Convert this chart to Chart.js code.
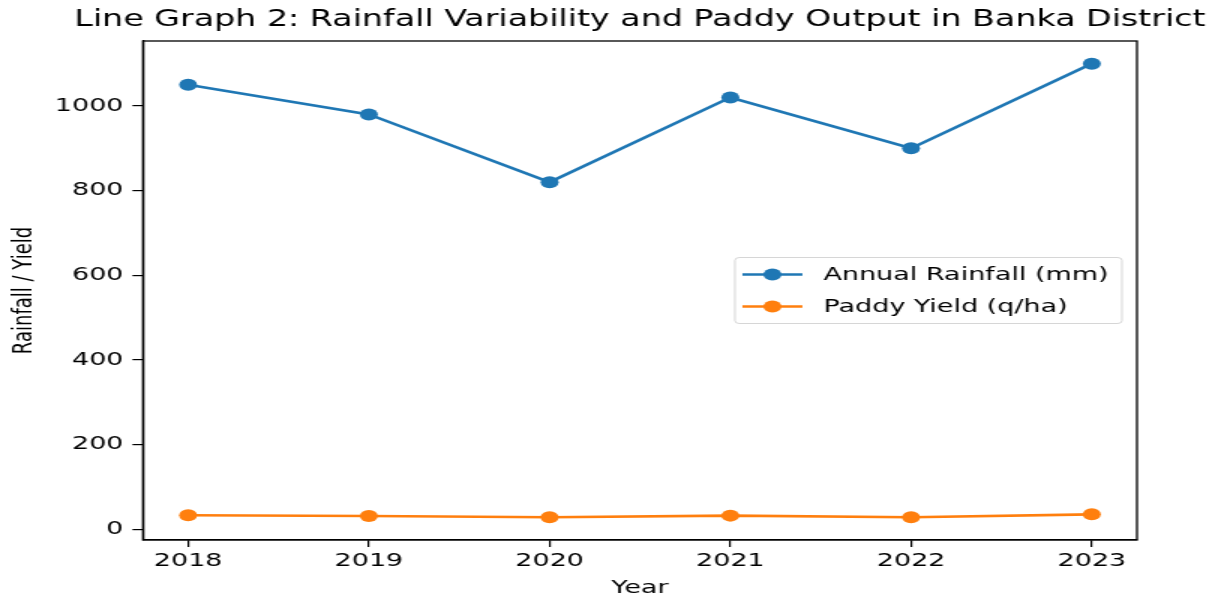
<!DOCTYPE html>
<html>
<head>
<meta charset="utf-8">
<script src="https://cdn.jsdelivr.net/npm/chart.js@4/dist/chart.umd.min.js"></script>
<style>
  html, body { margin: 0; padding: 0; background: #fff; overflow: hidden; }
  /* the reference is stretched sideways, so draw narrow and widen it */
  #wrap { width: 811.3px; height: 596px; transform: scaleX(1.5); transform-origin: 0 0; }
</style>
</head>
<body>
<div id="wrap"><canvas id="lineChart"></canvas></div>
<script>
const years = [2018, 2019, 2020, 2021, 2022, 2023];
const rainfall = [1050, 980, 820, 1020, 900, 1100];
const paddyYield = [33, 31, 28, 32, 28, 35];
const yTicks = [0, 200, 400, 600, 800, 1000];
const seriesLabels = ["Annual Rainfall (mm)", "Paddy Yield (q/ha)"];
const seriesColors = ["#1f77b4", "#ff7f0e"];
const chartTitle = "Line Graph 2: Rainfall Variability and Paddy Output in Banka District";

const FONT = "DejaVu Sans";

document.addEventListener("DOMContentLoaded", () => {
  const allValues = rainfall.concat(paddyYield);
  const lo = Math.min(...allValues), hi = Math.max(...allValues);
  const pad = (hi - lo) * 0.05;
  const xPad = (years[years.length - 1] - years[0]) * 0.05;

  // top + right spines, and the title centred over the plot
  const framePlugin = {
    id: "frame",
    afterDraw(chart) {
      const { ctx, chartArea: a } = chart;
      ctx.save();
      ctx.strokeStyle = "#000";
      ctx.lineWidth = 1.3;
      ctx.strokeRect(a.left, a.top, a.right - a.left, a.bottom - a.top);

      ctx.fillStyle = "#000";
      ctx.font = `22.2px "${FONT}"`;
      ctx.textAlign = "center";
      ctx.textBaseline = "middle";
      ctx.fillText(chartTitle, (a.left + a.right) / 2, 20);
      ctx.restore();
    }
  };

  // matplotlib-like legend sitting inside the plot, centre right
  const legendPlugin = {
    id: "boxLegend",
    afterDraw(chart) {
      const { ctx, chartArea: a } = chart;
      const sets = chart.data.datasets;
      ctx.save();
      ctx.font = `18px "${FONT}"`;
      const textW = Math.max(...sets.map(d => ctx.measureText(d.label).width));
      const padL = 5, padR = 9, handle = 40, gap = 14, rowH = 32;
      const boxW = padL + handle + gap + textW + padR;
      const boxH = rowH * sets.length + 2;
      const right = a.right - 10;
      const left = right - boxW;
      const top = (a.top + a.bottom) / 2 - boxH / 2;

      ctx.globalAlpha = 0.8;
      ctx.fillStyle = "#fff";
      ctx.strokeStyle = "#cccccc";
      ctx.lineWidth = 1;
      ctx.beginPath();
      ctx.roundRect(left, top, boxW, boxH, 3);
      ctx.fill();
      ctx.stroke();
      ctx.globalAlpha = 1;

      sets.forEach((d, i) => {
        const cy = top + 1 + rowH * i + rowH / 2;
        ctx.strokeStyle = d.borderColor;
        ctx.lineWidth = 2.6;
        ctx.beginPath();
        ctx.moveTo(left + padL, cy);
        ctx.lineTo(left + padL + handle, cy);
        ctx.stroke();
        ctx.fillStyle = d.borderColor;
        ctx.beginPath();
        ctx.arc(left + padL + handle / 2, cy, 6, 0, Math.PI * 2);
        ctx.fill();
        ctx.fillStyle = "#000";
        ctx.textBaseline = "middle";
        ctx.fillText(d.label, left + padL + handle + gap, cy + 1);
      });
      ctx.restore();
    }
  };

  const makeSet = (label, values, color) => ({
    label,
    data: years.map((y, i) => ({ x: y, y: values[i] })),
    borderColor: color,
    backgroundColor: color,
    borderWidth: 2.6,
    pointRadius: 6,
    pointHoverRadius: 6,
    pointBorderWidth: 0,
    tension: 0
  });

  const ctx = document.getElementById("lineChart").getContext("2d");
  new Chart(ctx, {
    type: "line",
    data: {
      datasets: [
        makeSet(seriesLabels[0], rainfall, seriesColors[0]),
        makeSet(seriesLabels[1], paddyYield, seriesColors[1])
      ]
    },
    options: {
      responsive: true,
      maintainAspectRatio: false,
      animation: false,
      layout: { padding: { left: 0, right: 53.3, top: 41, bottom: 0 } },
      plugins: {
        legend: { display: false },
        tooltip: { enabled: false },
        title: { display: false }
      },
      scales: {
        x: {
          type: "linear",
          min: years[0] - xPad,
          max: years[years.length - 1] + xPad,
          afterBuildTicks: s => { s.ticks = years.map(v => ({ value: v })); },
          afterFit: s => { s.height = 56; },
          grid: { display: true, drawOnChartArea: false, drawTicks: true, tickLength: 7, color: "#000", lineWidth: 1.2 },
          border: { display: true, color: "#000", width: 1.3 },
          ticks: { color: "#000", font: { family: FONT, size: 18 }, padding: 4, maxRotation: 0, callback: v => String(v) },
          title: { display: true, text: "Year", color: "#000", font: { family: FONT, size: 18 }, padding: { top: 0, bottom: -3 } }
        },
        y: {
          min: lo - pad,
          max: hi + pad,
          afterBuildTicks: s => { s.ticks = yTicks.map(v => ({ value: v })); },
          afterFit: s => { s.width = 95.3; },
          grid: { display: true, drawOnChartArea: false, drawTicks: true, tickLength: 7, color: "#000", lineWidth: 1.2 },
          border: { display: true, color: "#000", width: 1.3 },
          ticks: { color: "#000", font: { family: FONT, size: 18 }, padding: 6, callback: v => String(v) },
          title: { display: true, text: "Rainfall / Yield", color: "#000", font: { family: FONT, size: 18 }, padding: { top: 6, bottom: 0 } }
        }
      }
    },
    plugins: [framePlugin, legendPlugin]
  });
});
</script>
</body>
</html>
